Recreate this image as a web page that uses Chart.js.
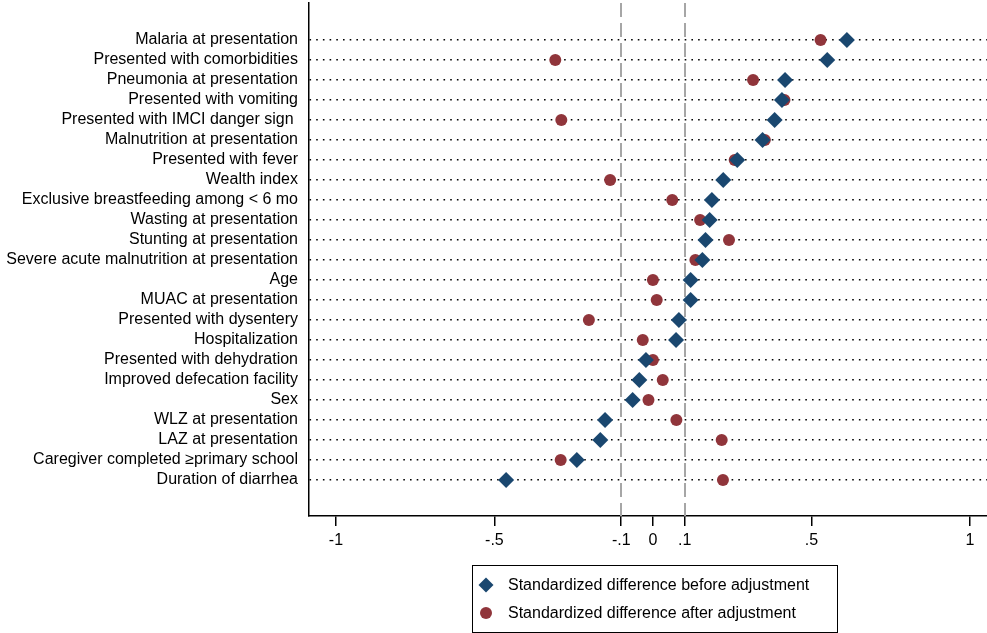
<!DOCTYPE html>
<html>
<head>
<meta charset="utf-8">
<script src="https://cdn.jsdelivr.net/npm/chart.js@4.4.1/dist/chart.umd.min.js"></script>
<style>
    html, body { margin: 0; padding: 0; background: #fff; }
</style>
</head>
<body>
<canvas id="balanceChart" width="987" height="633"></canvas>
<script>
// Covariates, top to bottom
const covariates = [
    'Malaria at presentation',
    'Presented with comorbidities',
    'Pneumonia at presentation',
    'Presented with vomiting',
    'Presented with IMCI danger sign ',
    'Malnutrition at presentation',
    'Presented with fever',
    'Wealth index',
    'Exclusive breastfeeding among < 6 mo',
    'Wasting at presentation',
    'Stunting at presentation',
    'Severe acute malnutrition at presentation',
    'Age',
    'MUAC at presentation',
    'Presented with dysentery',
    'Hospitalization',
    'Presented with dehydration',
    'Improved defecation facility',
    'Sex',
    'WLZ at presentation',
    'LAZ at presentation',
    'Caregiver completed \u2265primary school',
    'Duration of diarrhea'
];

// Standardized differences
const beforeAdj = [0.612, 0.550, 0.417, 0.407, 0.384, 0.346, 0.266, 0.222, 0.186, 0.179, 0.166, 0.156,
                   0.119, 0.119, 0.082, 0.073, -0.022, -0.043, -0.064, -0.151, -0.166, -0.240, -0.463];
const afterAdj = [0.529, -0.308, 0.316, 0.415, -0.289, 0.353, 0.258, -0.135, 0.061, 0.149, 0.240, 0.134,
                  0.000, 0.012, -0.202, -0.032, 0.000, 0.031, -0.014, 0.074, 0.217, -0.291, 0.221];

const seriesLabels = ['Standardized difference before adjustment', 'Standardized difference after adjustment'];
const xTickValues = [-1, -0.5, -0.1, 0, 0.1, 0.5, 1];
const xTickLabels = ['-1', '-.5', '-.1', '0', '.1', '.5', '1'];
const thresholdLines = [-0.1, 0.1];

const navy = '#1a476f';
const maroon = '#90353b';
const fontFamily = '"Liberation Sans", Arial, Helvetica, sans-serif';

Chart.defaults.font.family = fontFamily;
Chart.defaults.font.size = 16;
Chart.defaults.color = '#000';

// keep the plot region where Stata puts it, no label overhang padding
function noEdgePadding(scale) {
    scale.paddingTop = 0;
    scale.paddingBottom = 0;
    scale.paddingLeft = 0;
    scale.paddingRight = 0;
}

// Dashed reference lines at +/- 0.1
const thresholdPlugin = {
    id: 'thresholds',
    beforeDatasetsDraw(chart) {
        const {ctx, chartArea, scales} = chart;
        ctx.save();
        ctx.strokeStyle = '#a6a6a6';
        ctx.lineWidth = 2;
        ctx.setLineDash([14, 6]);
        thresholdLines.forEach(v => {
            const px = Math.round(scales.x.getPixelForValue(v));
            ctx.beginPath();
            ctx.moveTo(px, chartArea.top);
            ctx.lineTo(px, chartArea.bottom);
            ctx.stroke();
        });
        ctx.restore();
    }
};

// Boxed legend below the plot, items stacked
const boxLegendPlugin = {
    id: 'boxLegend',
    afterDraw(chart) {
        const ctx = chart.ctx;
        const box = {x: 472, y: 565, w: 365, h: 67};
        ctx.save();
        ctx.strokeStyle = '#000';
        ctx.lineWidth = 1;
        ctx.strokeRect(box.x + 0.5, box.y + 0.5, box.w, box.h);
        ctx.font = '16px ' + fontFamily;
        ctx.textBaseline = 'middle';
        chart.data.datasets.forEach((ds, i) => {
            const cy = box.y + 20 + i * 28;
            const cx = box.x + 14;
            ctx.fillStyle = ds.backgroundColor;
            ctx.beginPath();
            if (ds.pointStyle === 'rectRot') {
                const r = 7.5;
                ctx.moveTo(cx - r, cy);
                ctx.lineTo(cx, cy - r);
                ctx.lineTo(cx + r, cy);
                ctx.lineTo(cx, cy + r);
                ctx.closePath();
            } else {
                ctx.arc(cx, cy, 6, 0, Math.PI * 2);
            }
            ctx.fill();
            ctx.fillStyle = '#000';
            ctx.fillText(ds.label, box.x + 36, cy + 1);
        });
        ctx.restore();
    }
};

new Chart(document.getElementById('balanceChart').getContext('2d'), {
    type: 'scatter',
    data: {
        datasets: [{
            label: seriesLabels[0],
            data: covariates.map((_, i) => ({x: beforeAdj[i], y: i + 1})),
            pointStyle: 'rectRot',
            pointRadius: 8,
            backgroundColor: navy,
            borderColor: navy,
            borderWidth: 0
        }, {
            label: seriesLabels[1],
            data: covariates.map((_, i) => ({x: afterAdj[i], y: i + 1})),
            pointStyle: 'circle',
            pointRadius: 6,
            backgroundColor: maroon,
            borderColor: maroon,
            borderWidth: 0,
            order: 1
        }]
    },
    options: {
        responsive: false,
        animation: false,
        devicePixelRatio: 1,
        layout: {
            autoPadding: false,
            padding: {top: 3, right: 0, bottom: 77, left: 0}
        },
        scales: {
            x: {
                type: 'linear',
                min: -1.085,
                max: 1.054,
                afterBuildTicks: scale => {
                    scale.ticks = xTickValues.map(v => ({value: v}));
                },
                afterFit: scale => {
                    scale.height = 40;
                    noEdgePadding(scale);
                },
                ticks: {
                    autoSkip: false,
                    maxRotation: 0,
                    padding: 5,
                    callback: (value, index) => xTickLabels[index]
                },
                grid: {
                    drawOnChartArea: false,
                    drawTicks: true,
                    tickLength: 10,
                    color: '#000',
                    lineWidth: 1.5
                },
                border: {color: '#000', width: 1.5}
            },
            y: {
                type: 'linear',
                reverse: true,
                min: -0.85,
                max: 24.8,
                afterBuildTicks: scale => {
                    scale.ticks = covariates.map((_, i) => ({value: i + 1}));
                },
                afterFit: scale => {
                    scale.width = 309;
                    noEdgePadding(scale);
                },
                ticks: {
                    autoSkip: false,
                    padding: 11,
                    callback: value => covariates[value - 1]
                },
                grid: {
                    drawTicks: false,
                    color: '#000',
                    lineWidth: 1.6
                },
                border: {color: '#000', width: 1.5, dash: [1.6, 5.1]}
            }
        },
        plugins: {
            legend: {display: false},
            tooltip: {enabled: false}
        }
    },
    plugins: [thresholdPlugin, boxLegendPlugin]
});
</script>
</body>
</html>
